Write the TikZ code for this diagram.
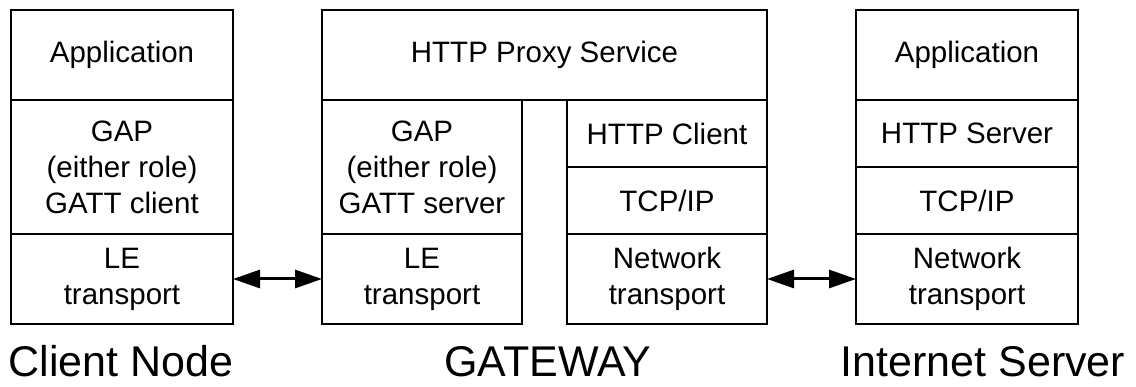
\documentclass[tikz,border=0pt]{standalone}
\usepackage{fontspec}
\setmainfont{Liberation Sans}
\usetikzlibrary{positioning,arrows.meta}

\tikzset{
  layer/.style={
    draw=black, line width=1.3pt, outer sep=0pt, inner sep=0pt,
    align=center, font=\fontsize{29.5}{36}\selectfont
  },
  wide/.style={minimum width=222pt},
  half/.style={minimum width=200pt},
  stackname/.style={anchor=base, inner sep=0pt, font=\fontsize{43}{50}\selectfont},
  link/.style={
    line width=3pt,
    {Triangle[length=27pt,width=18pt]}-{Triangle[length=27pt,width=18pt]}
  }
}

\begin{document}
\begin{tikzpicture}[x=1pt, y=1pt]
      \useasboundingbox (0,0) rectangle (1136,387);

      % client node
      \node[layer, wide, minimum height=90pt, anchor=north west] (capp) at (11,377) {Application};
      \node[layer, wide, minimum height=134pt, below=0pt of capp] (cgap) {GAP\\(either role)\\GATT client};
      \node[layer, wide, minimum height=90pt, below=0pt of cgap] (cle) {LE\\transport};

      % gateway
      \node[layer, minimum width=445pt, minimum height=90pt, anchor=north west] (proxy) at (322,377) {HTTP Proxy Service};
      \node[layer, half, minimum height=134pt, below right=0pt and 0pt of proxy.south west] (ggap) {GAP\\(either role)\\GATT server};
      \node[layer, half, minimum height=90pt, below=0pt of ggap] (gle) {LE\\transport};
      \node[layer, half, minimum height=67pt, below left=0pt and 0pt of proxy.south east] (ghttp) {HTTP Client};
      \node[layer, half, minimum height=67pt, below=0pt of ghttp] (gtcp) {TCP/IP};
      \node[layer, half, minimum height=90pt, below=0pt of gtcp] (gnet) {Network\\transport};

      % internet server
      \node[layer, wide, minimum height=90pt, anchor=north west] (sapp) at (856,377) {Application};
      \node[layer, wide, minimum height=67pt, below=0pt of sapp] (shttp) {HTTP Server};
      \node[layer, wide, minimum height=67pt, below=0pt of shttp] (stcp) {TCP/IP};
      \node[layer, wide, minimum height=90pt, below=0pt of stcp] (snet) {Network\\transport};

      \draw[link] (cle.east) -- (gle.west);
      \draw[link] (gnet.east) -- (snet.west);

      \node[stackname] (cname) at (121,10) {Client Node};
      \node[stackname] (gname) at (548,10) {GATEWAY};
      \node[stackname] (sname) at (983,10) {Internet Server};
    \end{tikzpicture}
\end{document}
